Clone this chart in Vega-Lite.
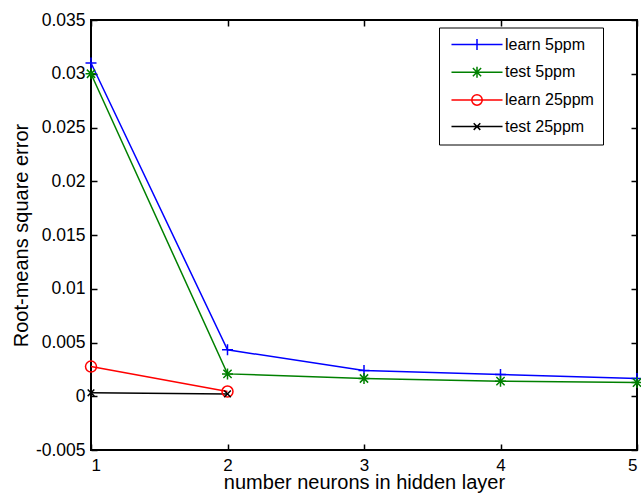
{
  "$schema": "https://vega.github.io/schema/vega-lite/v6.json",
  "autosize": {"type": "none"},
  "width": 546,
  "height": 430,
  "padding": {"left": 91, "top": 20, "right": 4, "bottom": 44},
  "background": "white",
  "config": {
    "view": {"stroke": "black", "strokeWidth": 2},
    "font": "Liberation Sans"
  },
  "data": {
    "values": [
      {"n": 1, "rmse": 0.0310, "series": "learn 5ppm"},
      {"n": 2, "rmse": 0.00432, "series": "learn 5ppm"},
      {"n": 3, "rmse": 0.00239, "series": "learn 5ppm"},
      {"n": 4, "rmse": 0.00202, "series": "learn 5ppm"},
      {"n": 5, "rmse": 0.00165, "series": "learn 5ppm"},
      {"n": 1, "rmse": 0.0300, "series": "test 5ppm"},
      {"n": 2, "rmse": 0.00208, "series": "test 5ppm"},
      {"n": 3, "rmse": 0.00165, "series": "test 5ppm"},
      {"n": 4, "rmse": 0.00140, "series": "test 5ppm"},
      {"n": 5, "rmse": 0.00127, "series": "test 5ppm"},
      {"n": 1, "rmse": 0.00276, "series": "learn 25ppm"},
      {"n": 2, "rmse": 0.00044, "series": "learn 25ppm"},
      {"n": 1, "rmse": 0.00032, "series": "test 25ppm"},
      {"n": 2, "rmse": 0.00022, "series": "test 25ppm"}
    ]
  },
  "resolve": {"axis": {"x": "independent", "y": "independent"}},
  "layer": [
    {
      "mark": {"type": "line", "strokeWidth": 1.5},
      "encoding": {
        "x": {
          "field": "n", "type": "quantitative",
          "scale": {"domain": [1, 5], "nice": false, "zero": false},
          "axis": {
            "orient": "bottom", "values": [1, 2, 3, 4, 5], "format": "d",
            "grid": false, "domain": false,
            "tickSize": -6, "tickColor": "black", "tickWidth": 1.5,
            "labelPadding": 13, "labelFontSize": 17, "labelColor": "black", "labelFont": "Liberation Sans",
            "title": "number neurons in hidden layer",
            "titleFontSize": 20, "titleFontWeight": "normal", "titleColor": "black", "titleFont": "Liberation Sans",
            "titleBaseline": "alphabetic", "titleY": 38.5
          }
        },
        "y": {
          "field": "rmse", "type": "quantitative",
          "scale": {"domain": [-0.005, 0.035], "nice": false, "zero": false},
          "axis": {
            "orient": "left",
            "values": [-0.005, 0, 0.005, 0.01, 0.015, 0.02, 0.025, 0.03, 0.035],
            "labelExpr": "'' + round(datum.value * 1000) / 1000",
            "grid": false, "domain": false,
            "tickSize": -6, "tickColor": "black", "tickWidth": 1.5,
            "labelPadding": 12, "labelFontSize": 17.5, "labelColor": "black", "labelFont": "Liberation Sans",
            "title": "Root-means square error",
            "titleFontSize": 20, "titleFontWeight": "normal", "titleColor": "black", "titleFont": "Liberation Sans",
            "titleBaseline": "alphabetic", "titleX": -64
          }
        },
        "color": {
          "field": "series", "type": "nominal",
          "scale": {
            "domain": ["learn 5ppm", "test 5ppm", "learn 25ppm", "test 25ppm"],
            "range": ["#0000ff", "#008000", "#ff0000", "#000000"]
          }
        },
        "detail": {"field": "series"}
      }
    },
    {
      "transform": [{"filter": "datum.series == 'learn 5ppm'"}],
      "mark": {"type": "point", "filled": false, "strokeWidth": 1.5, "size": 121, "opacity": 1, "shape": "M-1,0L1,0M0,-1L0,1"},
      "encoding": {
        "x": {
          "field": "n", "type": "quantitative",
          "axis": {
            "orient": "top", "values": [1, 2, 3, 4, 5], "labels": false, "title": null,
            "grid": false, "domain": false,
            "tickSize": -6, "tickColor": "black", "tickWidth": 1.5
          }
        },
        "y": {
          "field": "rmse", "type": "quantitative",
          "axis": {
            "orient": "right",
            "values": [-0.005, 0, 0.005, 0.01, 0.015, 0.02, 0.025, 0.03, 0.035],
            "labels": false, "title": null,
            "grid": false, "domain": false,
            "tickSize": -6, "tickColor": "black", "tickWidth": 1.5
          }
        },
        "color": {"field": "series", "type": "nominal"}
      }
    },
    {
      "transform": [{"filter": "datum.series == 'test 5ppm'"}],
      "mark": {"type": "point", "filled": false, "strokeWidth": 1.5, "size": 121, "opacity": 1, "shape": "M-1,0L1,0M0,-1L0,1M-0.75,-0.75L0.75,0.75M-0.75,0.75L0.75,-0.75"},
      "encoding": {
        "x": {"field": "n", "type": "quantitative", "axis": null},
        "y": {"field": "rmse", "type": "quantitative", "axis": null},
        "color": {"field": "series", "type": "nominal"}
      }
    },
    {
      "transform": [{"filter": "datum.series == 'learn 25ppm'"}],
      "mark": {"type": "point", "filled": false, "strokeWidth": 1.5, "size": 121, "opacity": 1, "shape": "circle"},
      "encoding": {
        "x": {"field": "n", "type": "quantitative", "axis": null},
        "y": {"field": "rmse", "type": "quantitative", "axis": null},
        "color": {"field": "series", "type": "nominal"}
      }
    },
    {
      "transform": [{"filter": "datum.series == 'test 25ppm'"}],
      "mark": {"type": "point", "filled": false, "strokeWidth": 1.5, "size": 121, "opacity": 1, "shape": "M-0.6,-0.6L0.6,0.6M-0.6,0.6L0.6,-0.6"},
      "encoding": {
        "x": {"field": "n", "type": "quantitative", "axis": null},
        "y": {"field": "rmse", "type": "quantitative", "axis": null},
        "color": {"field": "series", "type": "nominal"}
      }
    },
    {
      "mark": {"type": "point", "filled": false, "strokeWidth": 1.5, "size": 121, "opacity": 0},
      "encoding": {
        "x": {"field": "n", "type": "quantitative", "axis": null},
        "y": {"field": "rmse", "type": "quantitative", "axis": null},
        "color": {"field": "series", "type": "nominal"},
        "shape": {
          "field": "series", "type": "nominal",
          "scale": {
            "domain": ["learn 5ppm", "test 5ppm", "learn 25ppm", "test 25ppm"],
            "range": [
              "M-4.64,0L4.64,0M0,-1L0,1",
              "M-4.64,0L4.64,0M0,-1L0,1M-0.75,-0.75L0.75,0.75M-0.75,0.75L0.75,-0.75",
              "M-4.64,0L4.64,0M-0.95,0A0.95,0.95 0 1,0 0.95,0A0.95,0.95 0 1,0 -0.95,0",
              "M-4.64,0L4.64,0M-0.6,-0.6L0.6,0.6M-0.6,0.6L0.6,-0.6"
            ]
          },
          "legend": {
            "orient": "none", "legendX": 348, "legendY": 7.5,
            "title": null, "strokeColor": "black", "fillColor": "white",
            "padding": 9, "symbolSize": 121, "symbolStrokeWidth": 1.5, "symbolOpacity": 1,
            "labelFont": "Liberation Sans", "labelFontSize": 16, "labelColor": "black",
            "labelOffset": 20, "rowPadding": 9.7, "labelLimit": 300,
            "symbolOffset": 21,
            "labelExpr": "datum.label + '\u00a0\u00a0\u00a0\u00a0\u00a0\u00a0\u00a0\u00a0\u00a0'"
          }
        }
      }
    }
  ]
}
